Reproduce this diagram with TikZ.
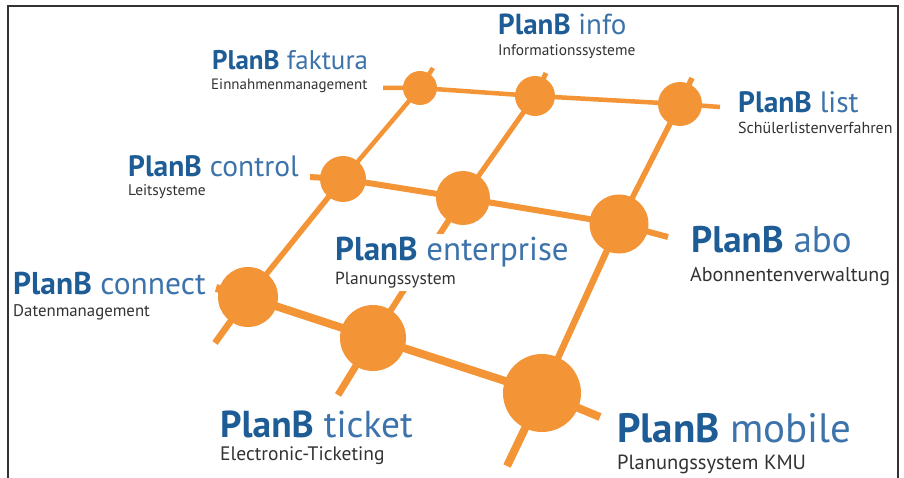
\documentclass[tikz,border=0pt]{standalone}
\usepackage{fontspec}
\setmainfont{PT Sans}
\usetikzlibrary{calc}

\definecolor{planorange}{RGB}{243,148,54}
\definecolor{plandark}{RGB}{30,92,150}
\definecolor{planlight}{RGB}{60,115,170}
\definecolor{plangray}{RGB}{50,50,50}

\tikzset{
  hub/.style={circle,fill=planorange,inner sep=0pt,minimum size=#1},
  link/.style={draw=planorange,line width=#1},
  title/.style={anchor=base west,inner sep=0pt,text=planlight},
  subtitle/.style={anchor=base west,inner sep=0pt,text=plangray},
}
\newcommand{\planb}[2]{\fontsize{#1}{#1}\selectfont\textbf{\color{plandark}PlanB} #2}
\newcommand{\plansub}[2]{\fontsize{#1}{#1}\selectfont #2}

\begin{document}
\begin{tikzpicture}[x=1pt,y=-1pt]
    \useasboundingbox (0,0) rectangle (904,478);

    \coordinate (F0) at (8,478);
    \coordinate (F1) at (898,6);
    \coordinate (F2) at (898,478);
    \draw [plangray,line width=1.5pt] (F0) |- (F1) -- (F2);

    % hubs, back row to front row
    \node [hub=34pt] (fak) at (420,88) {};
    \node [hub=40pt] (inf) at (535,96) {};
    \node [hub=44pt] (lst) at (680,104) {};
    \node [hub=46pt] (ctl) at (343,179) {};
    \node [hub=54pt] (ent) at (463,198) {};
    \node [hub=59pt] (abo) at (619,224) {};
    \node [hub=60pt] (con) at (248,297) {};
    \node [hub=66pt] (tic) at (373,338) {};
    \node [hub=78pt] (mob) at (542,393) {};

    % free ends
    \coordinate (R1a) at (383,88);
    \coordinate (R1b) at (720,107);
    \coordinate (R2a) at (310,177);
    \coordinate (R2b) at (668,237);
    \coordinate (R3a) at (216,288);
    \coordinate (R3b) at (600,417);
    \coordinate (C1a) at (215,343);
    \coordinate (C1b) at (433,68);
    \coordinate (C2a) at (338,395);
    \coordinate (C2b) at (546,73);
    \coordinate (C3a) at (507,466);
    \coordinate (C3b) at (692,78);

    \draw [link=4.5pt] (R1a) -- (fak.center) -- (inf.center) -- (lst.center) -- (R1b);
    \draw [link=6pt] (R2a) -- (ctl.center) -- (ent.center) -- (abo.center) -- (R2b);
    \draw [link=8pt] (R3a) -- (con.center) -- (tic.center) -- (mob.center) -- (R3b);

    \draw [link=6.5pt] (C1a) -- (con.center);
    \draw [link=5.5pt] (con.center) -- (ctl.center);
    \draw [link=4.5pt] (ctl.center) -- (fak.center) -- (C1b);
    \draw [link=7pt] (C2a) -- (tic.center);
    \draw [link=6pt] (tic.center) -- (ent.center);
    \draw [link=5pt] (ent.center) -- (inf.center) -- (C2b);
    \draw [link=8pt] (C3a) -- (mob.center);
    \draw [link=6.5pt] (mob.center) -- (abo.center);
    \draw [link=5.5pt] (abo.center) -- (lst.center) -- (C3b);

    % labels
    \node [title] (fak-t) at (212,70) {\planb{27}{faktura}};
    \node [subtitle] (fak-s) at (211,90) {\plansub{15}{Einnahmenmanagement}};
    \node [title] (inf-t) at (498,35) {\planb{29}{info}};
    \node [subtitle] (inf-s) at (498,56) {\plansub{15.4}{Informationssysteme}};
    \node [title] (lst-t) at (738,113) {\planb{29.5}{list}};
    \node [subtitle] (lst-s) at (738,134) {\plansub{16}{Schülerlistenverfahren}};
    \node [title] (ctl-t) at (128,177) {\planb{29.5}{control}};
    \node [subtitle] (ctl-s) at (128,196) {\plansub{15.4}{Leitsysteme}};
    \node [title,fill=white,inner sep=3pt] (ent-t) at (332,260) {\planb{33}{enterprise}};
    \node [subtitle,fill=white,inner sep=3pt] (ent-s) at (332,284) {\plansub{17.5}{Planungssystem}};
    \node [title] (abo-t) at (691,252) {\planb{37}{abo}};
    \node [subtitle] (abo-s) at (690,281) {\plansub{20}{Abonnentenverwaltung}};
    \node [title] (con-t) at (13,294) {\planb{31.5}{connect}};
    \node [subtitle] (con-s) at (13,316) {\plansub{16.8}{Datenmanagement}};
    \node [title] (tic-t) at (220,437) {\planb{37.5}{ticket}};
    \node [subtitle] (tic-s) at (220,460) {\plansub{19.5}{Electronic-Ticketing}};
    \node [title] (mob-t) at (617,442) {\planb{41}{mobile}};
    \node [subtitle] (mob-s) at (617,469) {\plansub{20.5}{Planungssystem KMU}};

\end{tikzpicture}
\end{document}
